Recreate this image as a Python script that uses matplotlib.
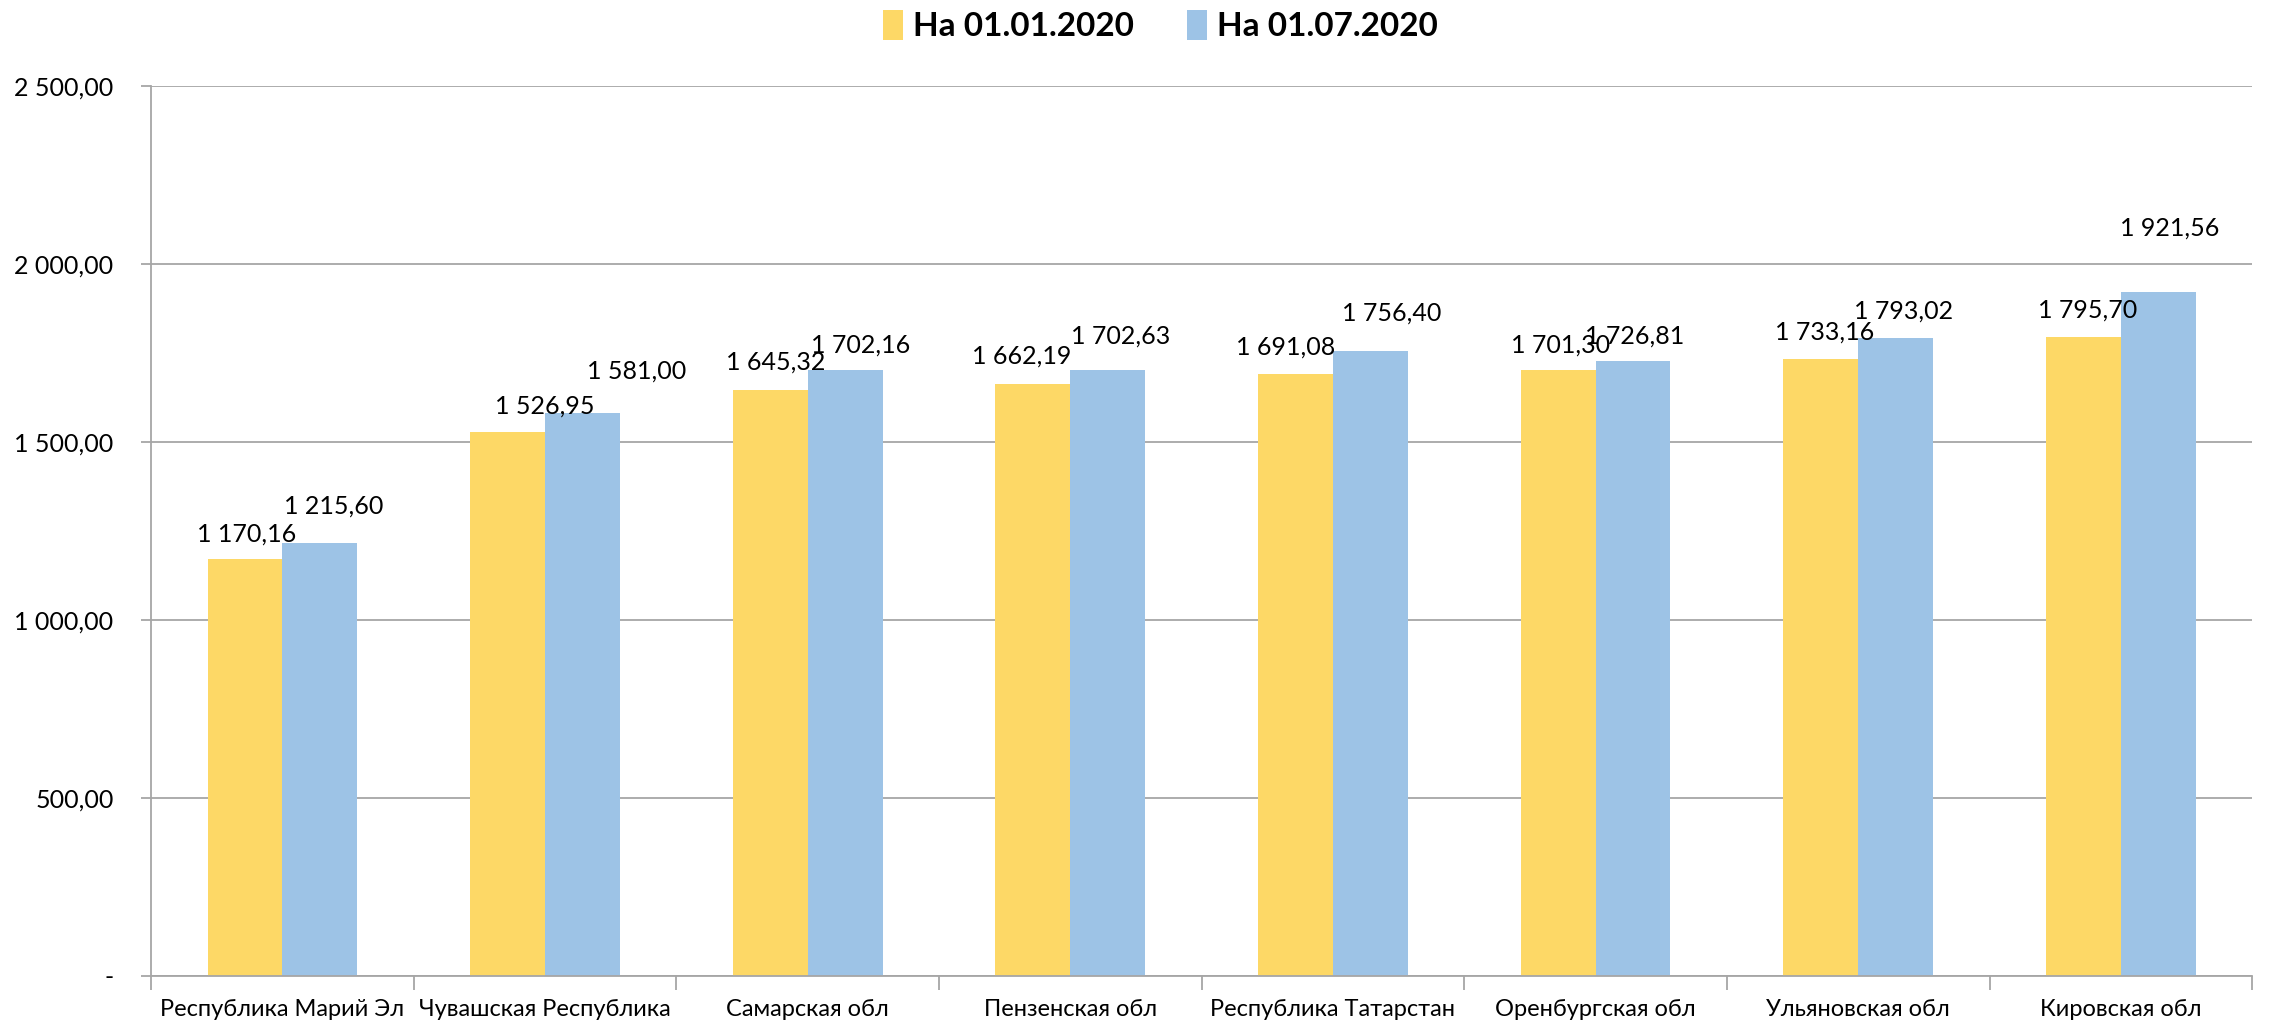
import numpy as np
import matplotlib.pyplot as plt
from matplotlib.ticker import FuncFormatter, FixedLocator

plt.rcParams['font.family'] = ['Lato', 'DejaVu Sans']

regions = ['Республика Марий Эл', 'Чувашская Республика', 'Самарская обл',
           'Пензенская обл', 'Республика Татарстан', 'Оренбургская обл',
           'Ульяновская обл', 'Кировская обл']
jan_2020 = [1170.16, 1526.95, 1645.32, 1662.19, 1691.08, 1701.30, 1733.16, 1795.70]
jul_2020 = [1215.60, 1581.00, 1702.16, 1702.63, 1756.40, 1726.81, 1793.02, 1921.56]
series_names = ['На 01.01.2020', 'На 01.07.2020']

# label nudges in points (labels in the source were dragged by hand)
jan_dx = [1, 27, 4, -8, -7, 2, 3, 3]
jan_dy = [18, 19, 20, 20, 19, 18, 19, 19]
jul_dx = [10, 39, 11, 9, 15, 1, 6, 8]
jul_dy = [27, 30, 18, 24, 27, 18, 19, 46]

yellow = '#FDD866'
blue = '#9DC3E6'
grid_col = '#A6A6A6'


def fmt_num(v, pos=None):
    if abs(v) < 1e-9:
        return '-'
    s = f'{v:,.2f}'
    return s.replace(',', ' ').replace('.', ',')


fig = plt.figure(figsize=(22.75, 10.24), dpi=100)
ax = fig.add_axes([0.0664, 0.047, 0.9236, 0.869])

x = np.arange(len(regions))
w = 0.285
b1 = ax.bar(x - w / 2, jan_2020, w, color=yellow, label=series_names[0])
b2 = ax.bar(x + w / 2, jul_2020, w, color=blue, label=series_names[1])

for bars, vals, dxs, dys in [(b1, jan_2020, jan_dx, jan_dy), (b2, jul_2020, jul_dx, jul_dy)]:
    for rect, v, dx, dy in zip(bars, vals, dxs, dys):
        ax.annotate(fmt_num(v), (rect.get_x() + rect.get_width() / 2, v),
                    xytext=(dx, dy), textcoords='offset points',
                    ha='center', va='center', fontsize=18)

ax.set_xlim(-0.5, len(regions) - 0.5)
ax.set_ylim(0, 2500)
ax.set_yticks(np.arange(0, 2501, 500))
ax.yaxis.set_major_formatter(FuncFormatter(fmt_num))
ax.yaxis.grid(True, color=grid_col, linewidth=1.3)
ax.set_axisbelow(True)

ax.set_xticks(x)
ax.set_xticklabels(regions)
ax.xaxis.set_minor_locator(FixedLocator(np.arange(-0.5, len(regions), 1.0)))
ax.tick_params(axis='x', which='major', length=0, pad=17, labelsize=17)
ax.tick_params(axis='x', which='minor', length=10, width=1.3, color=grid_col)
ax.tick_params(axis='y', length=7, width=1.3, color=grid_col, pad=20, labelsize=18)

for side in ['top', 'right']:
    ax.spines[side].set_visible(False)
for side in ['left', 'bottom']:
    ax.spines[side].set_color(grid_col)
    ax.spines[side].set_linewidth(1.3)

fig.legend(handles=[b1, b2], loc='center', bbox_to_anchor=(0.51, 0.975), ncol=2,
           frameon=False, prop={'weight': 'bold', 'size': 24},
           handlelength=0.6, handleheight=1.0, handletextpad=0.3, columnspacing=1.6)

fig.savefig('out.png', dpi=100)
